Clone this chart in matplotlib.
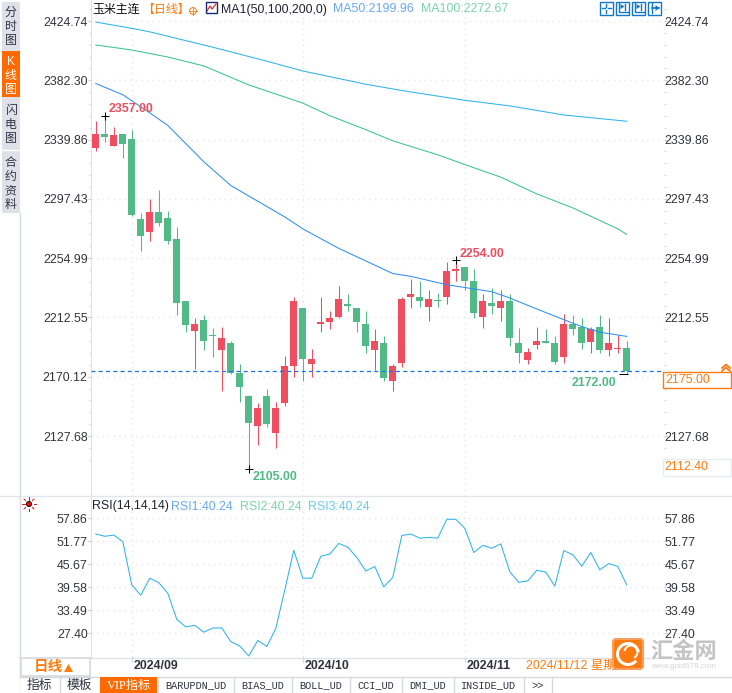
import matplotlib
matplotlib.use("Agg")
import matplotlib.pyplot as plt
from matplotlib.patches import Rectangle, FancyBboxPatch, Circle, Wedge
from matplotlib.transforms import Affine2D

plt.rcParams['font.family'] = ['Liberation Sans', 'Noto Sans CJK SC', 'DejaVu Sans']

# daily candles
opens = [2334, 2344, 2335, 2344, 2340, 2283, 2274, 2288, 2284, 2269,
         2224, 2203, 2211, 2199, 2189, 2194, 2173, 2156, 2135, 2156,
         2130, 2151, 2178, 2219, 2179, 2208, 2209, 2213, 2222, 2219,
         2208, 2189, 2194, 2167, 2180, 2227, 2227, 2220, 2225, 2227,
         2246, 2249, 2239, 2213, 2223, 2219, 2224, 2194, 2182, 2193,
         2196, 2194, 2184, 2208, 2206, 2195, 2206, 2189, 2190, 2191]
highs = [2353, 2357, 2349, 2344, 2347, 2287, 2297, 2304, 2289, 2277,
         2224, 2212, 2214, 2205, 2206, 2196, 2179, 2157, 2151, 2161,
         2152, 2185, 2227, 2219, 2190, 2227, 2217, 2235, 2229, 2219,
         2217, 2204, 2199, 2179, 2227, 2240, 2239, 2232, 2230, 2252,
         2254, 2249, 2247, 2229, 2234, 2232, 2229, 2205, 2191, 2206,
         2204, 2199, 2215, 2214, 2212, 2206, 2214, 2212, 2200, 2196]
lows = [2332, 2338, 2335, 2327, 2285, 2260, 2267, 2278, 2265, 2214,
        2202, 2176, 2189, 2184, 2160, 2172, 2152, 2104, 2121, 2134,
        2119, 2149, 2170, 2167, 2170, 2202, 2204, 2212, 2217, 2202,
        2187, 2175, 2167, 2160, 2177, 2219, 2220, 2210, 2220, 2222,
        2239, 2232, 2212, 2205, 2215, 2210, 2192, 2180, 2179, 2190,
        2194, 2179, 2180, 2200, 2190, 2187, 2187, 2185, 2187, 2172]
closes = [2344, 2342, 2343, 2337, 2286, 2271, 2288, 2280, 2267, 2223,
          2207, 2208, 2196, 2199, 2198, 2173, 2163, 2137, 2148, 2136,
          2148, 2178, 2224, 2183, 2183, 2209, 2212, 2226, 2221, 2209,
          2192, 2196, 2169, 2178, 2226, 2229, 2224, 2226, 2224, 2246,
          2247, 2239, 2216, 2224, 2221, 2224, 2198, 2187, 2188, 2196,
          2194, 2181, 2208, 2204, 2194, 2204, 2189, 2194, 2191, 2174]

ma50_idx = [0, 3, 6, 8, 12, 15, 19, 21, 23, 27, 30, 33, 35, 39, 41, 44, 46, 49, 52, 54, 56, 59]
ma50 = [2380, 2372, 2359, 2350, 2324, 2307, 2292, 2284.5, 2276, 2262, 2253, 2244,
        2242, 2236, 2234, 2231, 2226.5, 2218.6, 2211, 2206, 2202, 2199]
ma100_idx = [0, 4, 8, 12, 17, 23, 26, 30, 33, 38, 41, 45, 49, 53, 58, 59]
ma100 = [2407.6, 2404, 2399, 2392.6, 2379, 2366, 2357, 2347, 2339, 2329, 2322, 2313, 2301, 2291, 2276, 2272]
ma200_idx = [0, 4, 6, 13, 19, 23, 30, 34, 41, 46, 52, 59]
ma200 = [2424, 2419.5, 2417, 2406, 2396, 2389, 2379.5, 2375, 2368, 2364, 2357.5, 2353]

rsi = [53.7, 53.1, 53.4, 51.7, 40.2, 37.5, 42.0, 40.8, 38.0, 31.1,
       29.1, 29.5, 27.7, 28.8, 28.8, 25.2, 24.0, 21.4, 25.5, 23.9,
       28.7, 38.9, 49.4, 42.0, 42.0, 47.8, 48.4, 51.2, 50.2, 47.5,
       43.9, 45.1, 39.7, 42.2, 53.3, 53.7, 52.6, 52.8, 52.6, 57.6,
       57.6, 55.2, 48.8, 50.7, 49.9, 51.1, 43.7, 40.9, 41.3, 44.1,
       43.6, 39.9, 49.3, 48.2, 45.2, 48.8, 44.2, 45.9, 45.1, 40.2]

price_ticks = [2424.74, 2382.30, 2339.86, 2297.43, 2254.99, 2212.55, 2170.12, 2127.68]
rsi_ticks = [57.86, 51.77, 45.67, 39.58, 33.49, 27.40]
month_idx = [4, 23, 41]
month_labels = ['2024/09', '2024/10', '2024/11']

RED = '#ee4e5f'
GREEN = '#52ba87'
ORANGE = '#ff7b10'
GRID = '#e6e8ea'
TXT = '#33333f'
W, H = 732, 693
FS = 8.9
LW = 0.75

fig = plt.figure(figsize=(W / 100, H / 100), dpi=100)
fig.patch.set_facecolor('white')

def px_axes(x0, y0, x1, y1):
    return fig.add_axes([x0 / W, 1 - y1 / H, (x1 - x0) / W, (y1 - y0) / H])

ax = px_axes(90.5, 0, 663.5, 496)
ax2 = px_axes(90.5, 496, 663.5, 657)
xlim = ((90.5 - 95.8) / 9, (663.5 - 95.8) / 9)

for a in (ax, ax2):
    a.set_xlim(xlim)
    for s in a.spines.values():
        s.set_visible(False)
    a.spines['left'].set_visible(True)
    a.spines['left'].set_color('#dfe3e8')
    a.set_xticks(month_idx)
    a.set_xticklabels([])
    a.tick_params(axis='x', length=0)
    a.grid(True, color=GRID, linestyle=(0, (1, 3)), linewidth=1)
    a.set_axisbelow(True)
    a.tick_params(axis='y', which='major', left=True, right=True, labelleft=True, labelright=True,
                  labelsize=FS, labelcolor=TXT, length=2, width=0.8, color='#c8ccd0', pad=0)
    a.tick_params(axis='y', which='minor', left=True, right=True, length=1.2, width=0.8, color='#d4d8dc')

ax.set_ylim(2439.8 - 0.7158 * 496, 2439.8)
ax.set_yticks(price_ticks)
ax.set_yticklabels(['%.2f' % t for t in price_ticks])
step = (price_ticks[0] - price_ticks[1]) / 5
ax.set_yticks([price_ticks[-1] - 2 * step + j * step for j in range(47)
               if (j - 2) % 5 != 0 and price_ticks[-1] - 2 * step + j * step < 2435], minor=True)
# the price box covers this one on the right side
ax.yaxis.get_major_ticks()[6].label2.set_visible(False)

ax2.set_ylim(57.86 - 138.7 / 3.775, 57.86 + 22.3 / 3.775)
ax2.set_yticks(rsi_ticks)
ax2.set_yticklabels(['%.2f' % t for t in rsi_ticks])

# right labels sit a bit closer to the axis than the left ones
for a in (ax, ax2):
    for tk in a.yaxis.get_major_ticks():
        tk.label2.set_transform(tk.label2.get_transform() + Affine2D().translate(-1.5, 0))

# candles
for i in range(len(opens)):
    c = RED if closes[i] > opens[i] else GREEN
    ax.vlines(i, lows[i], highs[i], color=c, linewidth=LW, zorder=3)
    bottom = min(opens[i], closes[i])
    height = max(abs(closes[i] - opens[i]), 0.9)
    ax.bar(i, height, bottom=bottom, width=0.78, color=c, linewidth=0, zorder=4)

ax.plot(ma200_idx, ma200, color='#2fb2ee', linewidth=LW, zorder=5)
ax.plot(ma100_idx, ma100, color='#3cc48a', linewidth=LW, zorder=5)
ax.plot(ma50_idx, ma50, color='#2e8ff0', linewidth=LW, zorder=5)
ax.axhline(closes[-1], color='#1a73e8', linewidth=0.9, linestyle=(0, (3.2, 2.6)), zorder=6)

# high and low marks
ax.plot([1, 40, 17], [highs[1], highs[40], lows[17]], '+', color='black', ms=5.5, mew=LW, zorder=7)
ax.hlines(lows[-1], 58.1, 59.1, color='black', linewidth=LW, zorder=7)

ax2.plot(range(len(rsi)), rsi, color='#2fb2ee', linewidth=LW)

# everything else is placed in pixels on top of the chart
ov = fig.add_axes([0, 0, 1, 1], facecolor='none')
ov.set_xlim(0, W)
ov.set_ylim(H, 0)
ov.axis('off')

def t(x, y, s, color=TXT, size=FS, ha='left', weight='normal', family=None):
    kw = {}
    if family is not None:
        kw['family'] = family
    ov.text(x, y, s, color=color, fontsize=size, ha=ha, va='center', fontweight=weight, **kw)

def box(x0, y0, x1, y1, fc='none', ec='none', lw=1.0, z=2):
    ov.add_patch(Rectangle((x0, y0), x1 - x0, y1 - y0, facecolor=fc, edgecolor=ec, linewidth=lw, zorder=z))

# price labels on the candles
t(109, 109, '2357.00', RED, weight='bold')
t(460, 254, '2254.00', RED, weight='bold')
t(253, 477, '2105.00', GREEN, weight='bold')
t(572, 383, '2172.00', GREEN, weight='bold')

# header
t(92, 9.5, '玉米主连', '#111111', 8.6)
t(142, 9.5, '【日线】', ORANGE, 8.6)
ov.add_patch(Circle((193, 11), 3.4, facecolor='none', edgecolor=ORANGE, linewidth=0.7))
ov.plot([189, 197], [11, 11], color=ORANGE, lw=0.6)
ov.plot([193, 193], [7, 15], color=ORANGE, lw=0.6)
box(206, 2, 217, 13, fc='white', ec='#1a2a6c', lw=1.0)
ov.plot([207, 210, 212, 216], [11, 6, 9, 4], color='#d02020', lw=0.8)
t(221, 9.5, 'MA1(50,100,200,0)', '#222233')
t(333, 9.5, 'MA50:2199.96', '#6aa8f0')
t(421, 9.5, 'MA100:2272.67', '#7dd3a8')

# chart tool buttons
BTN = '#1277c8'
for n, x0 in enumerate([599.5, 615.5, 631.5, 647.5]):
    box(x0, 1.5, x0 + 13.5, 14.5, fc='white', ec=BTN, lw=1.0)
    if n == 0:
        ov.plot([x0 + 6.7, x0 + 6.7], [3.5, 6.5], color=BTN, lw=1.0)
        ov.plot([x0 + 6.7, x0 + 6.7], [9.5, 12.5], color=BTN, lw=1.0)
        ov.plot([x0 + 2, x0 + 5], [8, 8], color=BTN, lw=1.0)
        ov.plot([x0 + 8.5, x0 + 11.5], [8, 8], color=BTN, lw=1.0)
    elif n == 3:
        ov.plot([x0 + 4, x0 + 4], [3, 13], color=BTN, lw=1.0)
        ov.plot([x0 + 4, x0 + 11.5], [8, 8], color=BTN, lw=1.2)
        ov.fill([x0 + 8, x0 + 12, x0 + 8], [5, 8, 11], color=BTN, lw=0, zorder=3)
    else:
        ov.plot([x0 + 3.5, x0 + 3.5, x0 + 12], [3, 11.5, 11.5], color=BTN, lw=1.0)
        ov.plot([x0 + 9, x0 + 9], [3.5, 9.5], color=BTN, lw=1.0)
        ov.fill([x0 + 5, x0 + 9, x0 + 5], [4, 6.5, 9], color=BTN, lw=0, zorder=3)

# price boxes on the right
box(662.5, 371.5, 730.5, 388, fc='white', ec=ORANGE, lw=1.0, z=3)
t(665.5, 380, '2175.00', ORANGE)
ov.plot([722, 726, 730], [368, 364.5, 368], color=ORANGE, lw=1.3)
ov.plot([722, 726, 730], [371, 367.5, 371], color=ORANGE, lw=1.3)
box(662.5, 458.5, 730.5, 476, fc='white', ec='#e8ecf0', lw=1.0, z=3)
t(664.5, 467, '2112.40', ORANGE)

# rsi header
ov.plot([0, W], [496, 496], color='#e2e6ea', lw=1.0)
ov.add_patch(Circle((29, 504), 2.6, facecolor='#e01010', edgecolor='black', linewidth=0.6))
for dx, dy in [(6, 0), (-6, 0), (0, 6), (0, -6), (4.5, 4.5), (-4.5, 4.5), (4.5, -4.5), (-4.5, -4.5)]:
    ov.plot([29 + dx * 0.75, 29 + dx * 1.1], [504 + dy * 0.75, 504 + dy * 1.1], color='#e01010', lw=0.7)
t(92, 506.5, 'RSI(14,14,14)', '#222233')
t(171, 506.5, 'RSI1:40.24', '#6aa8f0')
t(240, 506.5, 'RSI2:40.24', '#7dd3a8')
t(308, 506.5, 'RSI3:40.24', '#66ccf0')

# left side tabs
box(2, 2, 19.5, 213, fc='#dfe0e8')
box(2, 51, 19.5, 97, fc='#ff6a00')
ov.plot([2, 19.5], [149.5, 149.5], color='white', lw=1.0)
ov.plot([19.5, 19.5], [213, H], color='#d5dae0', lw=1.0)
side = [('分', 14), ('时', 28), ('图', 42), ('闪', 112), ('电', 126), ('图', 140),
        ('合', 164), ('约', 178), ('资', 192), ('料', 206)]
for ch, y in side:
    t(10.5, y - 1, ch, '#333344', 8.6, ha='center')
for ch, y in [('K', 62), ('线', 76), ('图', 90)]:
    t(10.5, y, ch, 'white', 8.6, ha='center')

# date row
ov.plot([20, 663], [657.5, 657.5], color='#e0e4e8', lw=1.0)
box(20.5, 657.5, 89.5, 676, fc='white', ec='#d5dae0', lw=1.2)
t(34, 667.5, '日线', ORANGE, 10.5, weight='bold')
ov.fill([64, 68.5, 73], [672, 664, 672], color=ORANGE, lw=0, zorder=4)
for i, lab in zip(month_idx, month_labels):
    t(95.8 + 9 * i + 2, 666, lab, '#33333f', FS, weight='bold')
    ov.plot([95.8 + 9 * i, 95.8 + 9 * i], [657, 662], color='#d5dae0', lw=0.8)
t(526, 666, '2024/11/12 星期二', ORANGE)

# bottom tabs
box(20, 677, 731, 693, fc='white', z=2)
ov.plot([20, W], [677, 677], color='#d5dae0', lw=1.0, zorder=3)
for x in [59.5, 99.5, 157.5, 233.5, 291.5, 349.5, 401.5, 453.5, 523.5, 551.5]:
    ov.plot([x, x], [677, 693], color='#d5dae0', lw=1.0, zorder=3)
box(100, 677, 157, 693, fc='#ff6a00', z=3)
ov.text(39.5, 685.5, '指标', color='#333344', fontsize=9.2, ha='center', va='center')
ov.text(79.5, 685.5, '模板', color='#333344', fontsize=9.2, ha='center', va='center')
ov.text(128.5, 685.5, 'VIP指标', color='white', fontsize=8.8, ha='center', va='center', zorder=4,
        family=['Liberation Serif', 'Noto Sans CJK SC'])
tabs = [('BARUPDN_UD', 195.5), ('BIAS_UD', 262.5), ('BOLL_UD', 320.5), ('CCI_UD', 375.5),
        ('DMI_UD', 427.5), ('INSIDE_UD', 488.5), ('>>', 537.5)]
for lab, x in tabs:
    ov.text(x, 685.5, lab, color='#333344', fontsize=7.4, ha='center', va='center', zorder=4,
            family='Liberation Mono')

# watermark logo
ov.add_patch(FancyBboxPatch((613, 639), 30, 30, boxstyle='round,pad=0,rounding_size=3',
                            facecolor='#ff7b10', edgecolor='#f5a060', linewidth=1.5, zorder=5))
ov.add_patch(Wedge((628, 654), 12, 40, 350, width=3, facecolor='white', edgecolor='none', zorder=6))
ov.add_patch(Wedge((631, 652), 7.5, 190, 60, width=2, facecolor='white', edgecolor='none', zorder=6))
ov.text(650, 651.5, '汇金网', color='#c4c4c4', fontsize=16, ha='left', va='center', fontweight='bold',
        zorder=6, family=['Noto Sans CJK SC'])
ov.text(651, 667, 'www.gold678.com', color='#d4d4d4', fontsize=5.8, ha='left', va='center', zorder=6)

fig.savefig('out.png', dpi=100)
